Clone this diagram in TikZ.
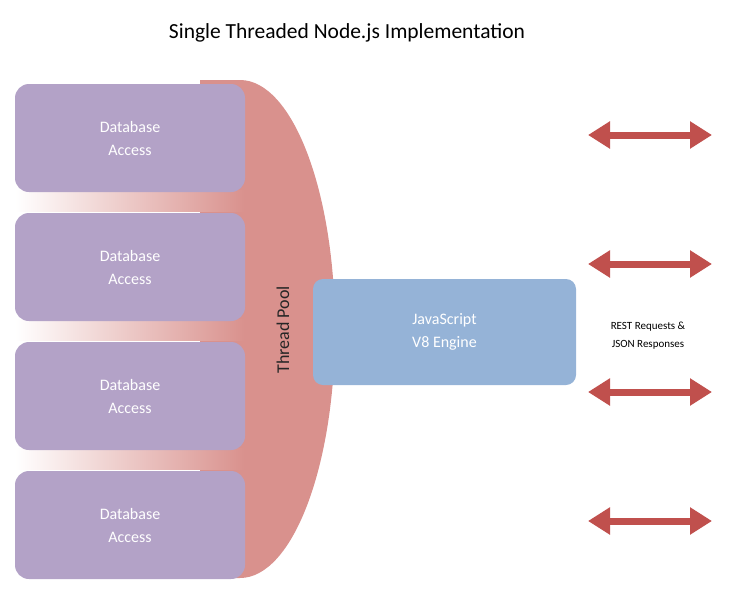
\documentclass[tikz,border=0pt]{standalone}
\usepackage{fontspec}
\setmainfont{Carlito}
\usetikzlibrary{arrows.meta}
\definecolor{poolred}{HTML}{D9918D}
\definecolor{dbpurple}{HTML}{B3A2C7}
\definecolor{jsblue}{HTML}{95B3D7}
\definecolor{arrred}{HTML}{C0504D}
\begin{document}
\begin{tikzpicture}[x=1pt,y=-1pt,
  db/.style={fill=dbpurple,draw=none,rounded corners=14pt,minimum width=230pt,minimum height=108pt,text=white,align=center,font=\fontsize{16}{23}\selectfont},
  gap/.style={left color=white,right color=poolred,draw=none},
  dbl/.style={draw=arrred,line width=7pt,{Triangle[width=26pt,length=22pt]}-{Triangle[width=26pt,length=22pt]}}]
\useasboundingbox (0,0) rectangle (732,595);
\node (title) at (347,33) {\fontsize{21.5}{26}\selectfont Single Threaded Node.js Implementation};
% thread pool
\fill[poolred] (200,80) -- (240,80) arc[start angle=-90,end angle=90,x radius=95,y radius=249] -- (200,578) -- cycle;
\shade[gap] (15,190) rectangle (245,211);
\shade[gap] (15,319) rectangle (245,340);
\shade[gap] (15,448) rectangle (245,469);
\node[db] (d1) at (130,138) {Database\\Access};
\node[db] (d2) at (130,267) {Database\\Access};
\node[db] (d3) at (130,396) {Database\\Access};
\node[db] (d4) at (130,525) {Database\\Access};
\node[rotate=90,font=\fontsize{18}{20}\selectfont,text=black!85] (tp) at (283,330) {Thread Pool};
\node[fill=jsblue,rounded corners=10pt,minimum width=263pt,minimum height=106pt,text=white,align=center,font=\fontsize{16}{23}\selectfont] (js) at (444.5,332) {JavaScript\\V8 Engine};
\node[align=center,font=\fontsize{11}{18}\selectfont] (rest) at (648,336) {REST Requests \&\\JSON Responses};
\foreach \i/\y in {1/135,2/264,3/392,4/521}{
  \coordinate (a\i) at (588,\y); \coordinate (b\i) at (712,\y);
  \draw[dbl] (a\i) -- (b\i);
}
\end{tikzpicture}
\end{document}
